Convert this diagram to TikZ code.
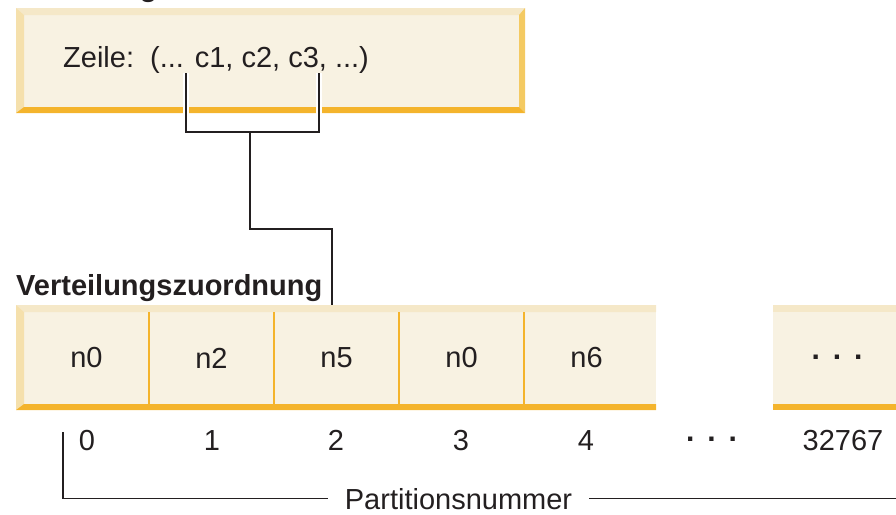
\documentclass[tikz,border=0pt]{standalone}
\usepackage{fontspec}
\setmainfont{Liberation Sans}
\definecolor{boxfill}{HTML}{F8F2E2}
\definecolor{bevtop}{HTML}{F5E8C8}
\definecolor{bevleft}{HTML}{F5E0AC}
\definecolor{bevbot}{HTML}{F4B42C}
\definecolor{bevright}{HTML}{F4CA62}
\definecolor{ink}{HTML}{231F20}
\begin{document}
\begin{tikzpicture}[x=1pt,y=-1pt,
  txt/.style={inner sep=0pt, font=\fontsize{29}{34}\selectfont, text=ink},
  btxt/.style={inner sep=0pt, font=\fontsize{29}{34}\selectfont\bfseries, text=ink},
  dotstxt/.style={inner sep=0pt, font=\fontsize{30}{34}\selectfont\bfseries, text=ink},
  cellbox/.style={inner sep=0pt, minimum width=125pt, minimum height=92pt, font=\fontsize{29}{34}\selectfont, text=ink},
  conn/.style={draw=ink, line width=1.9pt},
  halo/.style={draw=white, line width=6pt},
  divider/.style={draw=bevbot, line width=1.5pt}]
\useasboundingbox (0,0) rectangle (896,514);
\clip (0,0) rectangle (896,514);

% cut-off title above the row box
\node[btxt, anchor=base west] (keylabel) at (17,-3) {Verteilungsschlüssel};

% row box
\node[fill=boxfill, inner sep=0pt, minimum width=509pt, minimum height=105pt, anchor=north west] (rowbox) at (16,8) {};
\fill[bevtop] (16,8) -- (525,8) -- (519,15) -- (24,15) -- cycle;
\fill[bevleft] (16,8) -- (24,15) -- (24,107) -- (16,113) -- cycle;
\fill[bevright] (525,8) -- (525,113) -- (519,107) -- (519,15) -- cycle;
\fill[bevbot] (16,113) -- (24,107) -- (519,107) -- (525,113) -- cycle;
\node[txt, anchor=base west] (rowtext) at (63,67) {Zeile:\ \ (... c1, c2, c3, ...)};

% distribution map
\node[btxt, anchor=base west] (maplabel) at (16,295) {Verteilungszuordnung};
\node[fill=boxfill, inner sep=0pt, minimum width=640pt, minimum height=105pt, anchor=north west] (map) at (16,305) {};
\fill[bevtop] (16,305) -- (656,305) -- (656,312) -- (24,312) -- cycle;
\fill[bevleft] (16,305) -- (24,312) -- (24,404) -- (16,410) -- cycle;
\fill[bevbot] (16,410) -- (24,404) -- (656,404) -- (656,410) -- cycle;
\foreach \xx in {149,274,399,524} \draw[divider] (\xx,312) -- (\xx,405);

\node[cellbox] (m0) at (86.5,358) {n0};
\node[cellbox] (m1) at (211.5,358) {n2};
\node[cellbox] (m2) at (336.5,358) {n5};
\node[cellbox] (m3) at (461.5,358) {n0};
\node[cellbox] (m4) at (586.5,358) {n6};

\node[fill=boxfill, inner sep=0pt, minimum width=130pt, minimum height=105pt, anchor=north west] (mapend) at (773,305) {};
\fill[bevtop] (773,305) rectangle (903,312);
\fill[bevbot] (773,404) rectangle (903,410);
\node[dotstxt, anchor=base] (mdots) at (837,359.5) {.\hspace{13pt}.\hspace{13pt}.};

% partition numbers
\node[txt, anchor=base] (p0) at (87,450) {0};
\node[txt, anchor=base] (p1) at (212,450) {1};
\node[txt, anchor=base] (p2) at (336,450) {2};
\node[txt, anchor=base] (p3) at (461,450) {3};
\node[txt, anchor=base] (p4) at (586,450) {4};
\node[dotstxt, anchor=base] (pdots) at (711.5,441.5) {.\hspace{13pt}.\hspace{13pt}.};
\node[txt, anchor=base] (plast) at (843,450) {32767};

\node[txt, anchor=base, inner xsep=17pt] (pn) at (458.5,509) {Partitionsnummer};
\coordinate (tick) at (63,432);
\coordinate (pnend) at (900,498);
\draw[line width=1.7pt, draw=ink] (tick) |- (pn.west);
\draw[line width=1.7pt, draw=ink] (pn.east) -- (pn.east -| pnend);

% connector from columns to map
\coordinate (c1) at (186,73);
\coordinate (c3) at (319,73);
\coordinate (jl) at (186,132);
\coordinate (jr) at (319,132);
\coordinate (jm) at (250,132);
\coordinate (bend) at (250,229);
\coordinate (maptop) at (332,305);
\draw[halo] (c1) -- (186,115);
\draw[halo] (c3) -- (319,115);
\draw[conn] (c1) -- (jl) -- (jr) -- (c3);
\draw[conn] (jm) -- (bend) -| (maptop);
\end{tikzpicture}
\end{document}
